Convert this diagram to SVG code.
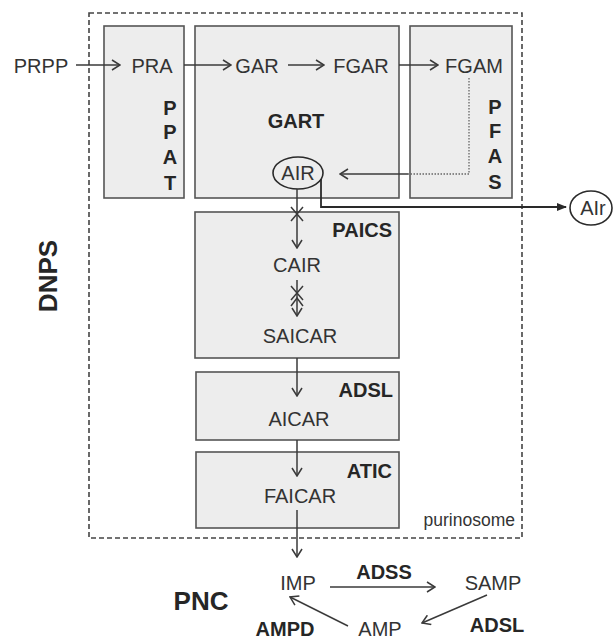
<svg xmlns="http://www.w3.org/2000/svg" width="613" height="641" viewBox="0 0 613 641">
<defs>
<style>
.box{fill:#ededed;stroke:#555;stroke-width:1.6}
.t{font-family:"Liberation Sans",Arial,sans-serif;font-size:20px;fill:#333}
.b{font-family:"Liberation Sans",Arial,sans-serif;font-size:20px;font-weight:bold;fill:#262626}
.ln{fill:none;stroke:#3a3a3a;stroke-width:1.5}
</style>
<marker id="open" viewBox="0 0 10 12" refX="9" refY="6" markerWidth="10" markerHeight="12" markerUnits="userSpaceOnUse" orient="auto">
<path d="M1,1 L9,6 L1,11" fill="none" stroke="#3a3a3a" stroke-width="1.5"/>
</marker>
<marker id="fill" viewBox="0 0 10 10" refX="9" refY="5" markerWidth="10" markerHeight="10" markerUnits="userSpaceOnUse" orient="auto">
<path d="M0,1 L10,5 L0,9 Z" fill="#2a2a2a"/>
</marker>
</defs>
<rect width="613" height="641" fill="#ffffff"/>

<g id="purinosome">
<rect x="89" y="13" width="433" height="525" fill="none" stroke="#444" stroke-width="1.6" stroke-dasharray="5,3"/>
<text class="t" x="515" y="526" text-anchor="end" style="font-size:17.5px">purinosome</text>
</g>

<g id="PPAT">
<rect class="box" x="104" y="26" width="80" height="172"/>
<text class="t" x="152" y="73" text-anchor="middle">PRA</text>
<text class="b" x="170" y="115" text-anchor="middle">P</text>
<text class="b" x="170" y="139" text-anchor="middle">P</text>
<text class="b" x="170" y="164" text-anchor="middle">A</text>
<text class="b" x="170" y="190" text-anchor="middle">T</text>
</g>

<g id="GART">
<rect class="box" x="195" y="26" width="204" height="172"/>
<text class="t" x="257" y="73" text-anchor="middle">GAR</text>
<text class="t" x="361" y="73" text-anchor="middle">FGAR</text>
<text class="b" x="296" y="128" text-anchor="middle">GART</text>
<ellipse cx="298" cy="173" rx="25" ry="16" fill="none" stroke="#2a2a2a" stroke-width="1.6"/>
<text class="t" x="298" y="180" text-anchor="middle">AIR</text>
</g>

<g id="PFAS">
<rect class="box" x="410" y="26" width="102" height="172"/>
<text class="t" x="474" y="73" text-anchor="middle">FGAM</text>
<text class="b" x="495" y="114" text-anchor="middle">P</text>
<text class="b" x="495" y="138" text-anchor="middle">F</text>
<text class="b" x="495" y="163" text-anchor="middle">A</text>
<text class="b" x="495" y="189" text-anchor="middle">S</text>
</g>

<g id="PAICS">
<rect class="box" x="195" y="212" width="204" height="146"/>
<text class="b" x="392" y="237" text-anchor="end">PAICS</text>
<text class="t" x="297" y="272" text-anchor="middle">CAIR</text>
<text class="t" x="300" y="343" text-anchor="middle">SAICAR</text>
</g>

<g id="ADSL">
<rect class="box" x="196" y="372" width="203" height="68"/>
<text class="b" x="393" y="397" text-anchor="end">ADSL</text>
<text class="t" x="299" y="426" text-anchor="middle">AICAR</text>
</g>

<g id="ATIC">
<rect class="box" x="196" y="452" width="203" height="76"/>
<text class="b" x="392" y="478" text-anchor="end">ATIC</text>
<text class="t" x="300" y="503" text-anchor="middle">FAICAR</text>
</g>

<g id="PRPP">
<text class="t" x="41" y="73" text-anchor="middle">PRPP</text>
</g>

<g id="AIr">
<ellipse cx="591" cy="208" rx="21" ry="17" fill="#fff" stroke="#2a2a2a" stroke-width="1.6"/>
<text class="t" x="593" y="215" text-anchor="middle">AIr</text>
</g>

<g id="labels">
<text class="b" x="48" y="276" text-anchor="middle" transform="rotate(-90 48 276)" style="font-size:26px" dy="9">DNPS</text>
<text class="b" x="201" y="610" text-anchor="middle" style="font-size:26px">PNC</text>
</g>

<g id="PNC">
<text class="t" x="298" y="590" text-anchor="middle">IMP</text>
<text class="b" x="384" y="579" text-anchor="middle">ADSS</text>
<text class="t" x="493" y="590" text-anchor="middle">SAMP</text>
<text class="b" x="497" y="632" text-anchor="middle">ADSL</text>
<text class="t" x="380" y="636" text-anchor="middle">AMP</text>
<text class="b" x="285" y="636" text-anchor="middle">AMPD</text>
</g>

<g id="connectors">
<path class="ln" d="M76,65 H120" marker-end="url(#open)"/>
<path class="ln" d="M184,65 H231" marker-end="url(#open)"/>
<path class="ln" d="M288,65 H324" marker-end="url(#open)"/>
<path class="ln" d="M399,65 H438" marker-end="url(#open)"/>
<path d="M469,78 V174 H408" fill="none" stroke="#666" stroke-width="1.3" stroke-dasharray="1.5,1.5"/>
<path class="ln" d="M408,174 H340" marker-end="url(#open)"/>
<path d="M321,179 V207 H566" fill="none" stroke="#2a2a2a" stroke-width="1.8" marker-end="url(#fill)"/>
<path class="ln" d="M297,189 V248" marker-end="url(#open)"/>
<path class="ln" d="M291,207 L303,221 M303,207 L291,221"/>
<path class="ln" d="M297,280 V316" marker-end="url(#open)"/>
<path class="ln" d="M291,286 L303,300 M303,286 L291,300 M291,306 L297,298 L303,306"/>
<path class="ln" d="M297,358 V396" marker-end="url(#open)"/>
<path class="ln" d="M297,440 V476" marker-end="url(#open)"/>
<path class="ln" d="M297,510 V557" marker-end="url(#open)"/>
<path class="ln" d="M330,587 H435" marker-end="url(#open)"/>
<path class="ln" d="M487,595 L422,623" marker-end="url(#open)"/>
<path class="ln" d="M348,626 L290,597" marker-end="url(#open)"/>
</g>
</svg>
